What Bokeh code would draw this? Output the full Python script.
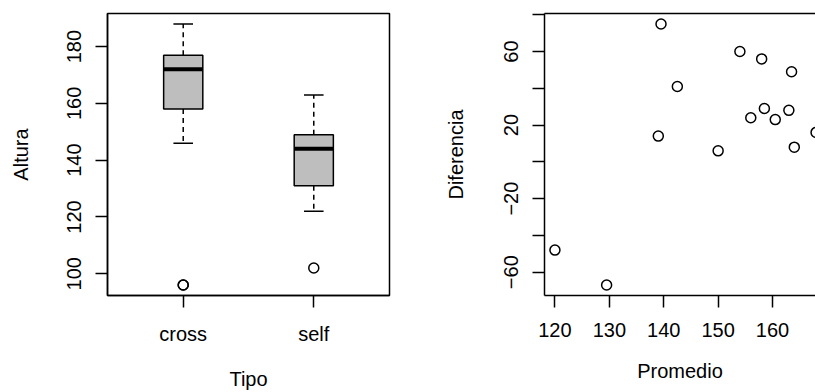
from bokeh.plotting import figure
from bokeh.layouts import row
from bokeh.models import FixedTicker, ColumnDataSource, Range1d, LinearAxis
from bokeh.embed import file_html
from bokeh.resources import INLINE

# ---- data: boxplot of Altura by Tipo ----
tipo = ["cross", "self"]
tipo_pos = [1, 2]
whisker_low = [146, 122]
q1 = [158, 131]
median = [172, 144]
q3 = [177, 149]
whisker_high = [188, 163]
outlier_pos = [1, 1, 2]
outlier_val = [96, 96, 102]
altura_ticks = [100, 120, 140, 160, 180]

# ---- data: difference vs mean ----
promedio = [163.5, 129.5, 164, 168, 150, 160.5, 163, 142.5, 139, 158.5, 158, 156, 139.5, 154, 120]
diferencia = [49, -67, 8, 16, 6, 23, 28, 41, 14, 29, 56, 24, 75, 60, -48]
promedio_ticks = [120, 130, 140, 150, 160, 170]
diferencia_ticks = [-60, -40, -20, 0, 20, 40, 60, 80]
diferencia_labels = {-60: "\u221260", -40: "", -20: "\u221220", 0: "", 20: "20", 40: "", 60: "60", 80: ""}

FONT = "Liberation Sans"
FS = "20px"
LW = 1.5
H = 392


def style_axis(ax, tick_standoff, label_standoff):
    ax.axis_line_color = "black"
    ax.axis_line_width = LW
    ax.major_tick_line_color = "black"
    ax.major_tick_line_width = LW
    ax.major_tick_out = 12
    ax.major_tick_in = 0
    ax.minor_tick_out = 0
    ax.minor_tick_in = 0
    ax.major_label_text_font = FONT
    ax.major_label_text_font_size = FS
    ax.major_label_text_color = "black"
    ax.major_label_standoff = tick_standoff
    ax.axis_label_text_font = FONT
    ax.axis_label_text_font_size = FS
    ax.axis_label_text_font_style = "normal"
    ax.axis_label_text_color = "black"
    ax.axis_label_standoff = label_standoff


# ---------------- left panel ----------------
n = len(tipo)
xlo, xhi = 0.5, n + 0.5
pad = 0.04 * (xhi - xlo)
ymin, ymax = min(outlier_val + whisker_low), max(whisker_high)
ypad = 0.04 * (ymax - ymin)

p1 = figure(width=412, height=H,
            x_range=Range1d(xlo - pad, xhi + pad),
            y_range=Range1d(ymin - ypad, ymax + ypad),
            output_backend="svg", toolbar_location=None,
            min_border_left=107, min_border_right=23,
            min_border_top=13, min_border_bottom=97)
p1.background_fill_color = "white"
p1.border_fill_color = "white"
p1.outline_line_color = "black"
p1.outline_line_width = LW
p1.outline_line_alpha = 1
p1.xgrid.visible = False
p1.ygrid.visible = False

half = 0.15
staple = 0.075
src = ColumnDataSource(dict(
    pos=tipo_pos,
    left=[p - half for p in tipo_pos],
    right=[p + half for p in tipo_pos],
    sl=[p - staple for p in tipo_pos],
    sr=[p + staple for p in tipo_pos],
    lo=whisker_low, q1=q1, med=median, q3=q3, hi=whisker_high,
))

p1.segment(x0="pos", y0="q3", x1="pos", y1="hi", source=src,
           line_color="black", line_width=LW, line_dash="5 4")
p1.segment(x0="pos", y0="q1", x1="pos", y1="lo", source=src,
           line_color="black", line_width=LW, line_dash="5 4")
p1.segment(x0="sl", y0="hi", x1="sr", y1="hi", source=src,
           line_color="black", line_width=LW)
p1.segment(x0="sl", y0="lo", x1="sr", y1="lo", source=src,
           line_color="black", line_width=LW)
p1.quad(left="left", right="right", bottom="q1", top="q3", source=src,
        fill_color="#BEBEBE", line_color="black", line_width=LW)
p1.segment(x0="left", y0="med", x1="right", y1="med", source=src,
           line_color="black", line_width=4, line_cap="butt")
p1.scatter(outlier_pos, outlier_val, marker="circle", size=10,
           fill_color=None, line_color="black", line_width=LW)

p1.xaxis.ticker = FixedTicker(ticks=tipo_pos)
p1.xaxis.major_label_overrides = {p: t for p, t in zip(tipo_pos, tipo)}
p1.yaxis.ticker = FixedTicker(ticks=altura_ticks)
p1.xaxis.axis_label = "Tipo"
p1.yaxis.axis_label = "Altura"
style_axis(p1.xaxis[0], 15, 20)
style_axis(p1.yaxis[0], 14, 33)
p1.yaxis.major_label_orientation = "vertical"

# ---------------- right panel ----------------
xmin, xmax = min(promedio), max(promedio)
xpad = 0.04 * (xmax - xmin)
full_lo, full_hi = xmin - xpad, xmax + xpad
visible = 271 / 282  # right part of the panel is cut off by the page edge
dmin, dmax = min(diferencia), max(diferencia)
dpad = 0.04 * (dmax - dmin)

p2 = figure(width=403, height=H,
            x_range=Range1d(full_lo, full_lo + (full_hi - full_lo) * visible),
            y_range=Range1d(dmin - dpad, dmax + dpad),
            output_backend="svg", toolbar_location=None,
            min_border_left=132, min_border_right=0,
            min_border_top=13, min_border_bottom=97)
p2.background_fill_color = "white"
p2.border_fill_color = "white"
p2.outline_line_color = None
p2.xgrid.visible = False
p2.ygrid.visible = False

p2.scatter(promedio, diferencia, marker="circle", size=10,
           fill_color=None, line_color="black", line_width=LW)

p2.xaxis.ticker = FixedTicker(ticks=promedio_ticks)
p2.yaxis.ticker = FixedTicker(ticks=diferencia_ticks)
p2.yaxis.major_label_overrides = diferencia_labels
p2.xaxis.axis_label = "Promedio"
p2.yaxis.axis_label = "Diferencia"
style_axis(p2.xaxis[0], 15, 20)
style_axis(p2.yaxis[0], 14, 35)
p2.yaxis.major_label_orientation = "vertical"

top = LinearAxis(ticker=FixedTicker(ticks=[]))
top.axis_line_color = "black"
top.axis_line_width = LW
top.major_tick_out = 0
top.major_tick_in = 0
top.minor_tick_out = 0
top.minor_tick_in = 0
top.major_label_text_font_size = "0px"
top.major_label_standoff = 0
p2.add_layout(top, "above")

layout = row(p1, p2)
open("out.html", "w").write(file_html(layout, INLINE))
